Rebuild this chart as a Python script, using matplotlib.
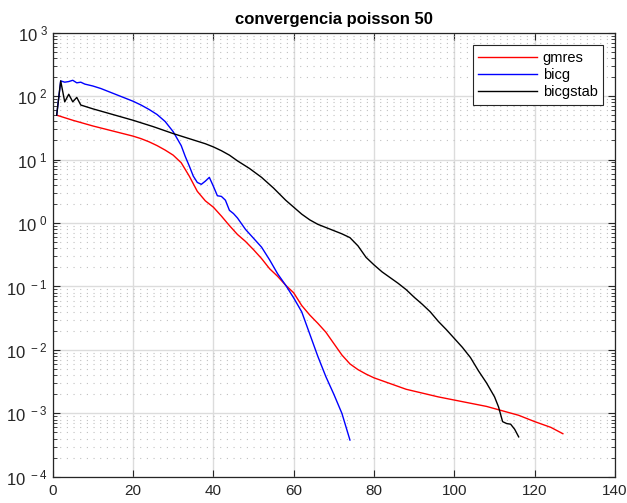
import matplotlib
matplotlib.use("Agg")
import matplotlib.pyplot as plt
from matplotlib.ticker import FixedLocator, FuncFormatter, LogLocator, NullFormatter
import numpy as np

plt.rcParams["font.family"] = ["Liberation Sans", "DejaVu Sans"]
plt.rcParams["mathtext.default"] = "regular"

# residual curves (iteration, log10 residual)
gmres_it = [1, 5, 10, 15, 20, 22, 24, 26, 28, 30, 32, 34, 36, 38, 40, 42, 44, 46, 48,
            50, 52, 54, 56, 58, 60, 62, 64, 66, 68, 70, 72, 74, 76, 78, 80, 84, 88,
            92, 96, 100, 104, 108, 112, 116, 120, 124, 127]
gmres_log = [1.70, 1.62, 1.53, 1.45, 1.37, 1.33, 1.28, 1.22, 1.15, 1.07, 0.95, 0.74,
             0.50, 0.35, 0.25, 0.11, -0.04, -0.18, -0.29, -0.42, -0.56, -0.72, -0.84,
             -0.98, -1.10, -1.30, -1.45, -1.58, -1.72, -1.90, -2.08, -2.22, -2.31,
             -2.38, -2.44, -2.53, -2.62, -2.68, -2.74, -2.79, -2.84, -2.89, -2.96,
             -3.03, -3.13, -3.22, -3.32]

bicg_it = [1, 2, 3, 4, 5, 6, 7, 8, 10, 12, 14, 16, 18, 20, 22, 24, 26, 28, 30, 32,
           33, 34, 35, 36, 37, 38, 39, 40, 41, 42, 43, 44, 45, 46, 48, 50, 52, 54,
           56, 58, 60, 62, 64, 66, 68, 70, 72, 74]
bicg_log = [1.70, 2.24, 2.22, 2.23, 2.25, 2.21, 2.22, 2.19, 2.16, 2.12, 2.07, 2.02,
            1.97, 1.92, 1.86, 1.79, 1.71, 1.60, 1.44, 1.22, 1.05, 0.90, 0.74, 0.64,
            0.61, 0.66, 0.72, 0.58, 0.43, 0.42, 0.36, 0.20, 0.15, 0.08, -0.10,
            -0.24, -0.38, -0.58, -0.80, -0.98, -1.18, -1.40, -1.75, -2.10, -2.42,
            -2.70, -3.00, -3.42]

bicgstab_it = [1, 2, 3, 4, 5, 6, 7, 10, 15, 20, 25, 30, 35, 38, 40, 42, 44, 46, 49,
               52, 55, 58, 60, 62, 64, 66, 68, 70, 72, 74, 76, 78, 80, 82, 84, 86,
               88, 90, 92, 94, 96, 98, 100, 102, 104, 106, 108, 110, 111, 112, 113,
               114, 115, 116]
bicgstab_log = [1.70, 2.24, 1.91, 2.03, 1.91, 1.98, 1.86, 1.80, 1.71, 1.62, 1.52,
                1.41, 1.31, 1.25, 1.20, 1.14, 1.07, 0.98, 0.86, 0.72, 0.55, 0.36,
                0.25, 0.14, 0.05, -0.02, -0.07, -0.12, -0.17, -0.23, -0.36, -0.54,
                -0.66, -0.77, -0.86, -0.95, -1.05, -1.17, -1.28, -1.40, -1.55,
                -1.68, -1.82, -1.96, -2.12, -2.33, -2.52, -2.74, -2.90, -3.13,
                -3.16, -3.17, -3.25, -3.37]

x_ticks = [0, 20, 40, 60, 80, 100, 120, 140]
y_exps = [-4, -3, -2, -1, 0, 1, 2, 3]

fig = plt.figure(figsize=(6.27, 5.03), dpi=100)
ax = fig.add_axes([0.084, 0.052, 0.897, 0.883])

ax.semilogy(gmres_it, 10.0 ** np.array(gmres_log), color="#ff0000", lw=1.0, label="gmres")
ax.semilogy(bicg_it, 10.0 ** np.array(bicg_log), color="#0000ff", lw=1.0, label="bicg")
ax.semilogy(bicgstab_it, 10.0 ** np.array(bicgstab_log), color="#000000", lw=1.0, label="bicgstab")

ax.set_xlim(x_ticks[0], x_ticks[-1])
ax.set_ylim(10.0 ** y_exps[0], 10.0 ** y_exps[-1])
ax.xaxis.set_major_locator(FixedLocator(x_ticks))
ax.yaxis.set_major_locator(FixedLocator([10.0 ** e for e in y_exps]))
ax.yaxis.set_minor_locator(LogLocator(base=10, subs=np.arange(2, 10), numticks=20))
ax.yaxis.set_minor_formatter(NullFormatter())
ax.yaxis.set_major_formatter(FuncFormatter(lambda v, p: r"$10^{\ %d}$" % round(np.log10(v))))

ax.grid(True, which="major", color="#dcdcdc", lw=1.0, ls="-")
ax.grid(True, which="minor", axis="y", color="#c0c0c0", lw=0.8, ls=(0, (1, 5)))
ax.set_axisbelow(True)

ax.tick_params(which="both", direction="in", top=True, right=True, colors="#262626",
               labelcolor="#262626")
ax.tick_params(axis="y", labelsize=12)
ax.tick_params(axis="x", labelsize=11, pad=5)
ax.tick_params(which="major", length=5)
ax.tick_params(which="minor", length=3)
for s in ax.spines.values():
    s.set_color("#262626")
    s.set_linewidth(0.9)

ax.set_title("convergencia poisson 50", fontsize=12, fontweight="bold", pad=6)

leg = ax.legend(loc="upper right", bbox_to_anchor=(0.979, 0.972), borderaxespad=0,
                fontsize=10.5, handlelength=4.0, fancybox=False, framealpha=1,
                edgecolor="#262626", borderpad=0.4, labelspacing=0.2, handletextpad=0.4)
leg.get_frame().set_linewidth(0.8)

fig.savefig("out.png", dpi=100)
